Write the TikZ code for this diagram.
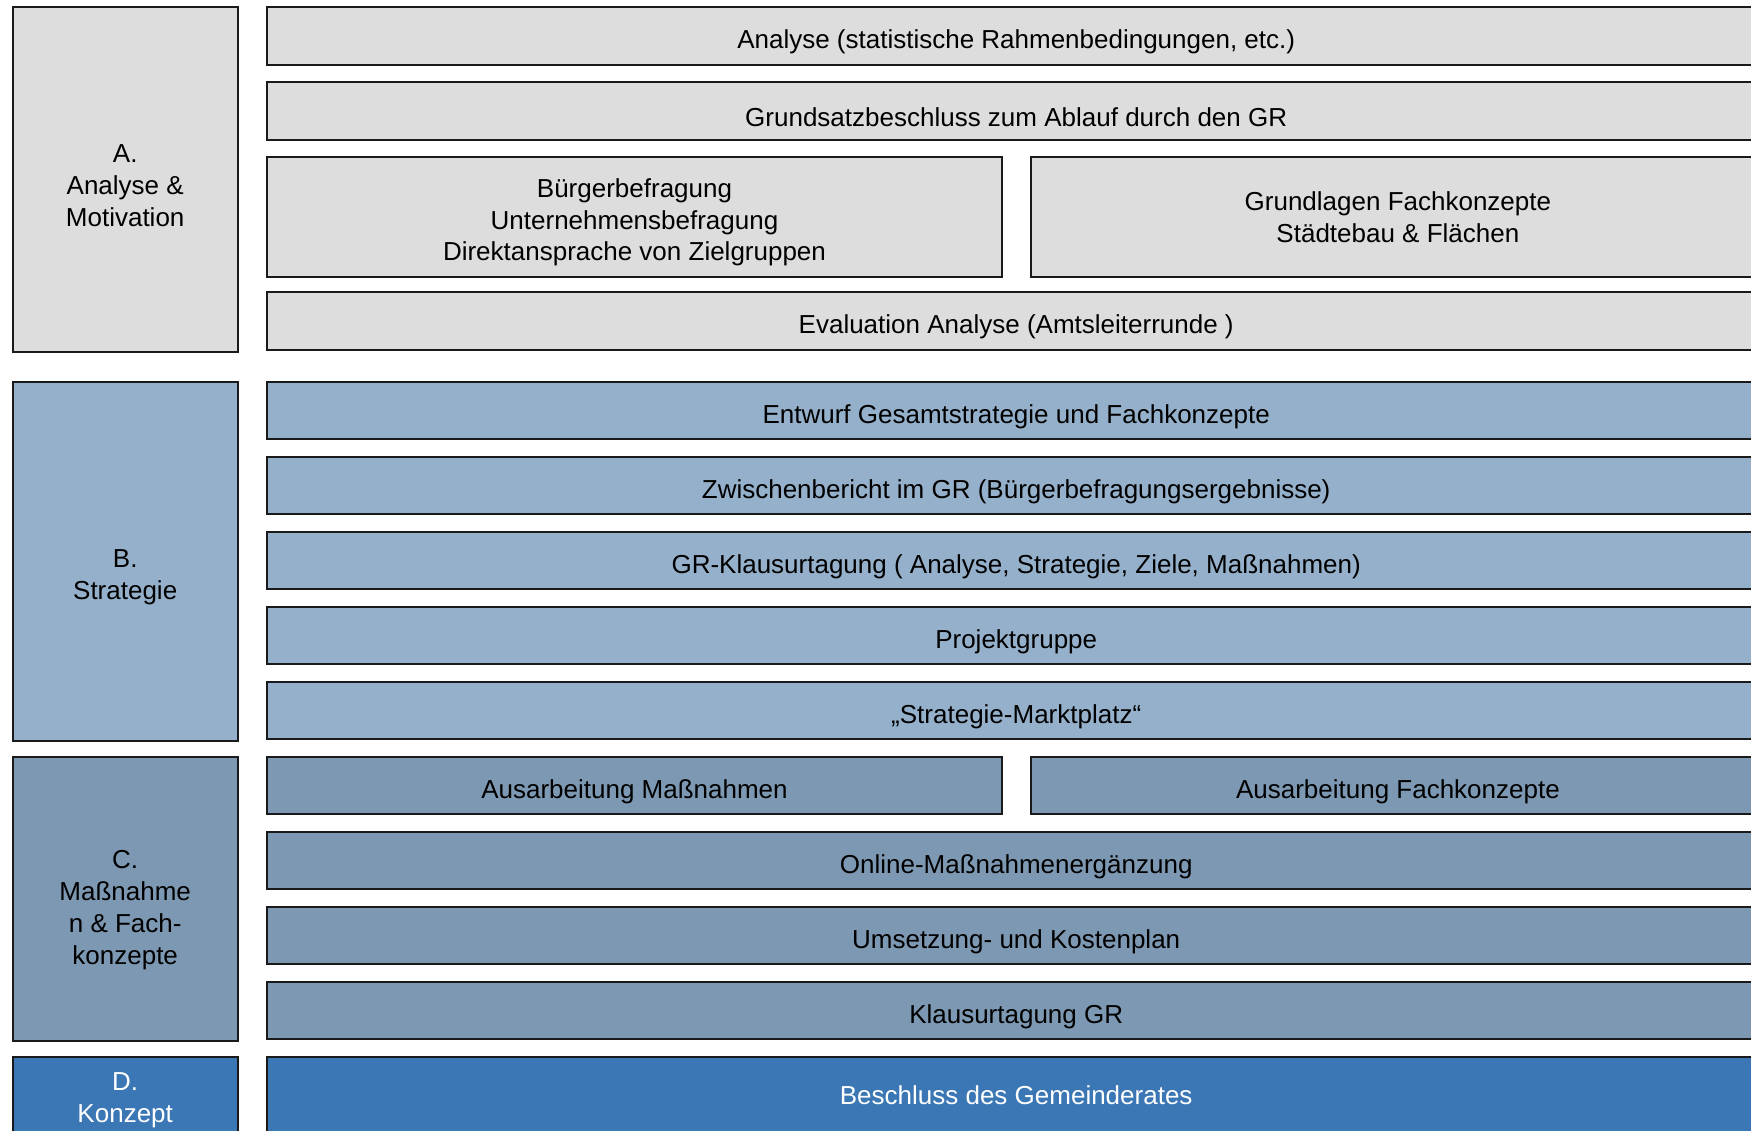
\documentclass[tikz,border=0pt]{standalone}
\usepackage{fontspec}
\setmainfont{Liberation Sans}
\usetikzlibrary{calc}
\definecolor{cA}{HTML}{DDDDDD}
\definecolor{cB}{HTML}{95B0CA}
\definecolor{cC}{HTML}{7D98B2}
\definecolor{cD}{HTML}{3B77B4}
\definecolor{edge}{HTML}{1A1A1A}
\tikzset{
  bx/.style={draw=edge, line width=1.8pt, inner sep=0pt, outer sep=0pt},
  lcol/.style={bx, minimum width=225pt},
  full/.style={bx, minimum width=1497.7pt, minimum height=57.6pt},
  halfbox/.style={bx, minimum width=734.4pt, minimum height=57.6pt},
  txt/.style={inner sep=0pt, align=center, font=\fontsize{26}{31.5}\selectfont, text=black},
  ltxt/.style={txt, font=\fontsize{26}{32}\selectfont},
}
\begin{document}
\begin{tikzpicture}[x=1pt,y=-1pt]
\useasboundingbox (0,0) rectangle (1751,1130);
\clip (0,0) rectangle (1751,1130);
% left column
\node[lcol, fill=cA, minimum height=344.4pt] (A) at (125.2,179.5) {};
\node[ltxt] (At) at (125.2,186) {A.\\Analyse \&\\Motivation};
\node[lcol, fill=cB, minimum height=359.3pt] (B) at (125.2,561.3) {};
\node[ltxt] (Bt) at (125.2,577.5) {B.\\Strategie};
\node[lcol, fill=cC, minimum height=283.7pt] (C) at (125.2,898.8) {};
\node[ltxt] (Ct) at (125.2,909.7) {C.\\Maßnahme\\n \& Fach-\\konzepte};
\node[lcol, fill=cD, minimum height=90pt] (D) at (125.2,1101.7) {};
\node[ltxt, text=white] (Dt) at (125.2,1100) {D.\\Konzept};
% A rows
\node[full, fill=cA] (a1) at (1016.2,36.1) {};
\node[txt] (a1t) at ($(a1.center)+(0,6)$) {Analyse (statistische Rahmenbedingungen, etc.)};
\node[full, fill=cA] (a2) at (1016.2,111.1) {};
\node[txt] (a2t) at ($(a2.center)+(0,6)$) {Grundsatzbeschluss zum Ablauf durch den GR};
\node[halfbox, fill=cA, minimum height=119.4pt] (a3l) at (634.5,217) {};
\node[txt] (a3lt) at ($(a3l.center)+(0,5.6)$) {Bürgerbefragung\\Unternehmensbefragung\\Direktansprache von Zielgruppen};
\node[halfbox, fill=cA, minimum height=119.4pt] (a3r) at (1397.9,217) {};
\node[txt] (a3rt) at ($(a3r.center)+(0,0)$) {Grundlagen Fachkonzepte\\Städtebau \& Flächen};
\node[full, fill=cA] (a4) at (1016.2,321.1) {};
\node[txt] (a4t) at ($(a4.center)+(0,6)$) {Evaluation Analyse (Amtsleiterrunde )};
% B rows
\node[full, fill=cB] (b1) at (1016.2,410.5) {};
\node[txt] (b1t) at ($(b1.center)+(0,6)$) {Entwurf Gesamtstrategie und Fachkonzepte};
\node[full, fill=cB] (b2) at (1016.2,485.5) {};
\node[txt] (b2t) at ($(b2.center)+(0,6)$) {Zwischenbericht im GR (Bürgerbefragungsergebnisse)};
\node[full, fill=cB] (b3) at (1016.2,560.5) {};
\node[txt] (b3t) at ($(b3.center)+(0,6)$) {GR-Klausurtagung ( Analyse, Strategie, Ziele, Maßnahmen)};
\node[full, fill=cB] (b4) at (1016.2,635.5) {};
\node[txt] (b4t) at ($(b4.center)+(0,6)$) {Projektgruppe};
\node[full, fill=cB] (b5) at (1016.2,710.5) {};
\node[txt] (b5t) at ($(b5.center)+(0,6)$) {„Strategie-Marktplatz“};
% C rows
\node[halfbox, fill=cC] (c1l) at (634.5,785.5) {};
\node[txt] (c1lt) at ($(c1l.center)+(0,6)$) {Ausarbeitung Maßnahmen};
\node[halfbox, fill=cC] (c1r) at (1397.9,785.5) {};
\node[txt] (c1rt) at ($(c1r.center)+(0,6)$) {Ausarbeitung Fachkonzepte};
\node[full, fill=cC] (c2) at (1016.2,860.5) {};
\node[txt] (c2t) at ($(c2.center)+(0,6)$) {Online-Maßnahmenergänzung};
\node[full, fill=cC] (c3) at (1016.2,935.5) {};
\node[txt] (c3t) at ($(c3.center)+(0,6)$) {Umsetzung- und Kostenplan};
\node[full, fill=cC] (c4) at (1016.2,1010.5) {};
\node[txt] (c4t) at ($(c4.center)+(0,6)$) {Klausurtagung GR};
% D
\node[full, fill=cD, minimum height=90pt] (d1) at (1016.2,1101.7) {};
\node[txt, text=white] (d1t) at (1016.2,1095) {Beschluss des Gemeinderates};
\end{tikzpicture}
\end{document}
